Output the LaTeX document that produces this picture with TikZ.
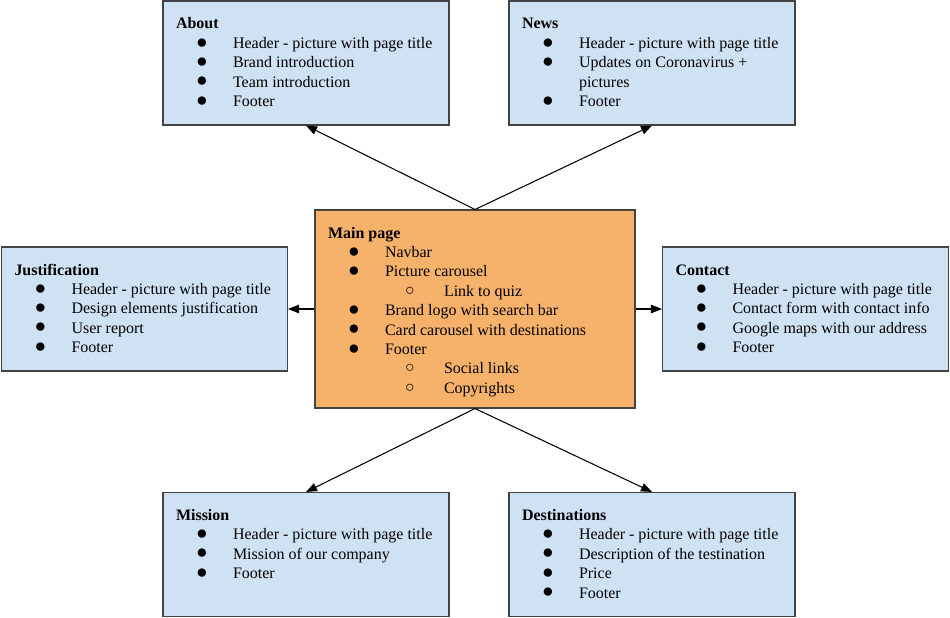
\documentclass[tikz,border=0pt]{standalone}
\usepackage{fontspec}
\setmainfont{Liberation Serif}
\usetikzlibrary{positioning,arrows.meta}
\definecolor{mapBlueFill}{HTML}{CFE2F3}
\definecolor{mapOrangeFill}{HTML}{F6B26B}
\definecolor{mapBoxLine}{HTML}{434343}
\definecolor{mapArrowLine}{HTML}{000000}

% list helpers for the page boxes
\newcommand\pgDot{\raisebox{0.2pt}{\fontsize{11pt}{11pt}\selectfont ●}}
\newcommand\pgRing{\raisebox{0.6pt}{\fontsize{9pt}{9pt}\selectfont ○}}
\newcommand\pgTitle[1]{\rule{0pt}{0.56cm}\textbf{#1}\par}
\newcommand\pgItem[1]{\hspace*{0.40cm}\makebox[0.74cm][l]{\pgDot}#1\par}
\newcommand\pgSub[1]{\hspace*{1.54cm}\makebox[0.78cm][l]{\pgRing}#1\par}
\newcommand\pgText[3]{\parbox[c][#1][t]{#2}{\parindent=0pt\raggedright #3}}

\begin{document}
\begin{tikzpicture}[
  pagebox/.style={draw=mapBoxLine, line width=0.6pt, fill=mapBlueFill,
    inner xsep=0.26cm, inner ysep=0pt,
    font=\fontsize{9.1pt}{11.05pt}\selectfont},
  mainbox/.style={pagebox, fill=mapOrangeFill},
  conn/.style={draw=mapArrowLine, line width=0.6pt,
    -{Triangle[length=2.2mm, width=1.7mm]}}
]

\def\boxH{2.48cm}
\def\boxW{5.20cm}
\def\mainH{3.96cm}
\def\mainW{5.88cm}

\useasboundingbox (0,0) rectangle (19,-12.36);

% --- MAIN PAGE ---
\node[mainbox] (main) at (9.50,-6.18) {\pgText{\mainH}{\mainW}{%
  \pgTitle{Main page}
  \pgItem{Navbar}
  \pgItem{Picture carousel}
  \pgSub{Link to quiz}
  \pgItem{Brand logo with search bar}
  \pgItem{Card carousel with destinations}
  \pgItem{Footer}
  \pgSub{Social links}
  \pgSub{Copyrights}}};

% --- TOP ROW ---
\node[pagebox] (about) at (6.12,-1.26) {\pgText{\boxH}{\boxW}{%
  \pgTitle{About}
  \pgItem{Header - picture with page title}
  \pgItem{Brand introduction}
  \pgItem{Team introduction}
  \pgItem{Footer}}};
\node[pagebox] (news) at (13.04,-1.26) {\pgText{\boxH}{\boxW}{%
  \pgTitle{News}
  \pgItem{Header - picture with page title}
  \pgItem{Updates on Coronavirus +\\\hspace*{1.14cm}pictures}
  \pgItem{Footer}}};

% --- MIDDLE ROW ---
\node[pagebox] (justification) at (2.89,-6.18) {\pgText{\boxH}{\boxW}{%
  \pgTitle{Justification}
  \pgItem{Header - picture with page title}
  \pgItem{Design elements justification}
  \pgItem{User report}
  \pgItem{Footer}}};
\node[pagebox] (contact) at (16.11,-6.18) {\pgText{\boxH}{\boxW}{%
  \pgTitle{Contact}
  \pgItem{Header - picture with page title}
  \pgItem{Contact form with contact info}
  \pgItem{Google maps with our address}
  \pgItem{Footer}}};

% --- BOTTOM ROW ---
\node[pagebox] (mission) at (6.12,-11.09) {\pgText{\boxH}{\boxW}{%
  \pgTitle{Mission}
  \pgItem{Header - picture with page title}
  \pgItem{Mission of our company}
  \pgItem{Footer}}};
\node[pagebox] (destinations) at (13.04,-11.09) {\pgText{\boxH}{\boxW}{%
  \pgTitle{Destinations}
  \pgItem{Header - picture with page title}
  \pgItem{Description of the testination}
  \pgItem{Price}
  \pgItem{Footer}}};

% --- CONNECTORS ---
\draw[conn] (main.north) -- (about.south);
\draw[conn] (main.north) -- (news.south);
\draw[conn] (main.west) -- (justification.east);
\draw[conn] (main.east) -- (contact.west);
\draw[conn] (main.south) -- (mission.north);
\draw[conn] (main.south) -- (destinations.north);

\end{tikzpicture}
\end{document}
